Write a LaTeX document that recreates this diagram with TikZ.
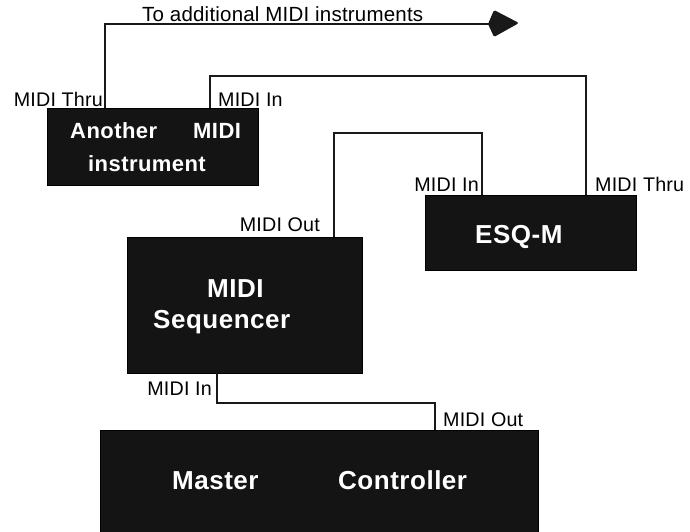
\documentclass[tikz,border=0pt]{standalone}
\usepackage{fontspec}
\setmainfont{Liberation Sans}
\begin{document}
\begin{tikzpicture}[x=1pt,y=-1pt,
  box/.style={draw=black,fill=black!92,line width=1pt,rectangle,inner sep=0pt,anchor=north west},
  lbl/.style={inner sep=0pt,font=\fontsize{19.7}{22}\selectfont\addfontfeature{LetterSpace=1}},
  toplbl/.style={inner sep=0pt,font=\fontsize{20.5}{22}\selectfont\addfontfeature{LetterSpace=1}},
  boxtxt/.style={inner sep=0pt,text=white,font=\fontsize{26}{28}\selectfont\bfseries\addfontfeature{LetterSpace=2}},
  smalltxt/.style={inner sep=0pt,text=white,font=\fontsize{22}{24}\selectfont\bfseries\addfontfeature{LetterSpace=2}},
  wire/.style={line width=1.8pt,draw=black!90}]
\useasboundingbox (0,0) rectangle (690,531);
% boxes
\node[box,minimum width=211pt,minimum height=77pt] (inst) at (47,108) {};
\node[box,minimum width=211pt,minimum height=75pt] (esq) at (425,195) {};
\node[box,minimum width=235pt,minimum height=136pt] (seq) at (127,237) {};
\node[box,minimum width=438pt,minimum height=110pt] (mc) at (100,430) {};
% box texts
\node[smalltxt,anchor=base west] (t1) at (70,138) {Another};
\node[smalltxt,anchor=base west] (t2) at (193,138) {MIDI};
\node[smalltxt,anchor=base west] (t3) at (88,171) {instrument};
\node[boxtxt,anchor=base west] (t4) at (475,243) {ESQ-M};
\node[boxtxt,anchor=base west] (t5) at (207,297) {MIDI};
\node[boxtxt,anchor=base west] (t6) at (153,328) {Sequencer};
\node[boxtxt,anchor=base west] (t7) at (172,489) {Master};
\node[boxtxt,anchor=base west] (t8) at (338,489) {Controller};
% ports
\coordinate (instThru) at (105,108);
\coordinate (instIn) at (210,108);
\coordinate (esqIn) at (482,195);
\coordinate (esqThru) at (586,195);
\coordinate (seqOut) at (334,237);
\coordinate (seqIn) at (217,373);
\coordinate (mcOut) at (435,430);
\coordinate (arrEnd) at (490,24);
% wires
\draw[wire] (instThru) |- (arrEnd);
\fill[black!90,rounded corners=1.5pt] (488,24) -- (494,10) -- (519,23) -- (494,37) -- cycle;
\draw[wire] (instIn) -- (210,76) -| (esqThru);
\draw[wire] (seqOut) -- (334,133) -| (esqIn);
\draw[wire] (seqIn) -- (217,403) -| (mcOut);
% labels
\node[toplbl,anchor=base west] (l0) at (142,21) {To additional MIDI instruments};
\node[lbl,anchor=base east] (l1) at (103,106) {MIDI Thru};
\node[lbl,anchor=base west] (l2) at (218,106) {MIDI In};
\node[lbl,anchor=base east] (l3) at (479,191) {MIDI In};
\node[lbl,anchor=base west] (l4) at (595,191) {MIDI Thru};
\node[lbl,anchor=base east] (l5) at (320,231) {MIDI Out};
\node[lbl,anchor=base east] (l6) at (212,395) {MIDI In};
\node[lbl,anchor=base west] (l7) at (443,426) {MIDI Out};
\end{tikzpicture}
\end{document}
